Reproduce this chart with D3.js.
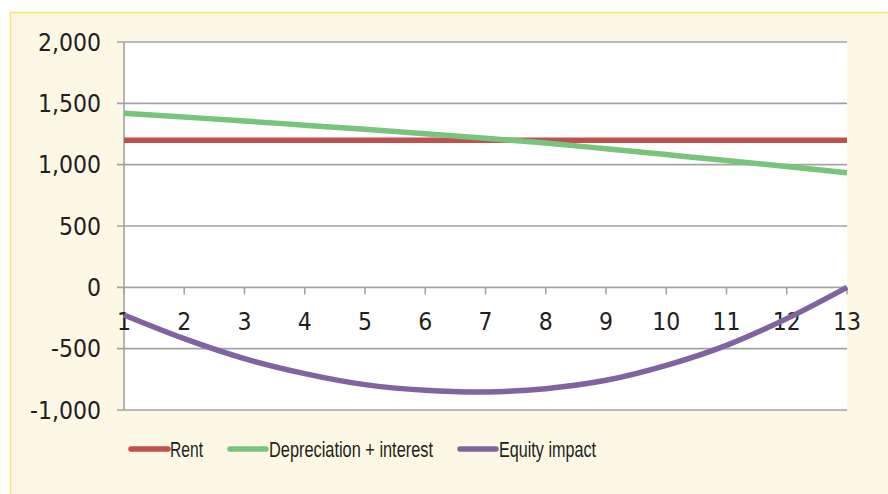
<!DOCTYPE html>
<html>
<head>
<meta charset="utf-8">
<script src="https://cdn.jsdelivr.net/npm/d3@7"></script>
<style>
  html, body { margin: 0; padding: 0; background: #ffffff; }
  svg { display: block; }
</style>
</head>
<body>
<svg id="chart" width="888" height="494"></svg>
<script>
const periods = [1, 2, 3, 4, 5, 6, 7, 8, 9, 10, 11, 12, 13];
const rent = [1200, 1200, 1200, 1200, 1200, 1200, 1200, 1200, 1200, 1200, 1200, 1200, 1200];
const depreciationInterest = [1420, 1388, 1356, 1322, 1288, 1253, 1216, 1176, 1130, 1082, 1034, 985, 935];
const equityImpact = [-225, -418, -581, -703, -793, -839, -853, -826, -758, -636, -473, -255, 0];
const yTicks = [-1000, -500, 0, 500, 1000, 1500, 2000];
const seriesNames = ["Rent", "Depreciation + interest", "Equity impact"];
const seriesColors = ["#c0504d", "#78c47c", "#8064a2"];

const svg = d3.select("#chart");
const W = 888, H = 494;
const plot = { left: 124, right: 847, top: 42, bottom: 410 };

// outer cream panel with yellow top/left border
svg.append("rect").attr("x", 10).attr("y", 12).attr("width", W - 10).attr("height", H - 12)
  .attr("fill", "#fdf8e6");
svg.append("line").attr("x1", 10).attr("x2", W).attr("y1", 12.5).attr("y2", 12.5)
  .attr("stroke", "#f6e76a").attr("stroke-width", 1.5);
svg.append("line").attr("x1", 10.5).attr("x2", 10.5).attr("y1", 12).attr("y2", H)
  .attr("stroke", "#f6e76a").attr("stroke-width", 1.5);

// plot area
svg.append("rect").attr("x", plot.left).attr("y", plot.top)
  .attr("width", plot.right - plot.left).attr("height", plot.bottom - plot.top)
  .attr("fill", "#ffffff");

const x = d3.scaleLinear().domain([1, 13]).range([plot.left, plot.right]);
const y = d3.scaleLinear().domain([-1000, 2000]).range([plot.bottom, plot.top]);

const gridColor = "#a3a3a3";
const fmt = d => d3.format(",")(d).replace("\u2212", "-");
const tickFont = "'DejaVu Sans Condensed', 'DejaVu Sans', sans-serif";

// horizontal gridlines
svg.append("g").selectAll("line").data(yTicks).join("line")
  .attr("x1", plot.left - 7).attr("x2", plot.right)
  .attr("y1", d => y(d)).attr("y2", d => y(d))
  .attr("stroke", gridColor).attr("stroke-width", 1.6);

// y axis line
svg.append("line").attr("x1", plot.left).attr("x2", plot.left)
  .attr("y1", plot.top).attr("y2", plot.bottom)
  .attr("stroke", gridColor).attr("stroke-width", 1.6);

// y labels
svg.append("g").selectAll("text").data(yTicks).join("text")
  .attr("x", 101).attr("y", d => y(d) + 8.5)
  .attr("text-anchor", "end")
  .attr("font-family", tickFont)
  .attr("font-size", 24.5).attr("fill", "#231f20")
  .text(d => fmt(d));

// category ticks on the zero line
svg.append("g").selectAll("line").data(periods).join("line")
  .attr("x1", d => x(d)).attr("x2", d => x(d))
  .attr("y1", y(0)).attr("y2", y(0) + 7)
  .attr("stroke", gridColor).attr("stroke-width", 1.6);

// category labels
svg.append("g").selectAll("text").data(periods).join("text")
  .attr("x", d => x(d)).attr("y", y(0) + 43)
  .attr("text-anchor", "middle")
  .attr("font-family", tickFont)
  .attr("font-size", 24.5).attr("fill", "#231f20")
  .text(d => d);

// series lines
const allSeries = [rent, depreciationInterest, equityImpact];
const line = d3.line()
  .x((d, i) => x(periods[i]))
  .y(d => y(d))
  .curve(d3.curveCardinal.tension(0));

allSeries.forEach((vals, k) => {
  svg.append("path").datum(vals)
    .attr("d", line)
    .attr("fill", "none")
    .attr("stroke", seriesColors[k])
    .attr("stroke-width", 5.5)
    .attr("stroke-linejoin", "round");
});

// legend
const legendItems = [
  { x1: 131, x2: 168, tx: 170, w: 33 },
  { x1: 230, x2: 266, tx: 269, w: 164 },
  { x1: 460, x2: 496, tx: 499, w: 97 }
];
const ly = 449;
legendItems.forEach((it, k) => {
  svg.append("line").attr("x1", it.x1).attr("x2", it.x2).attr("y1", ly).attr("y2", ly)
    .attr("stroke", seriesColors[k]).attr("stroke-width", 5.5).attr("stroke-linecap", "round");
  svg.append("text").attr("x", it.tx).attr("y", ly + 8)
    .attr("font-family", "'Liberation Sans', Arial, sans-serif")
    .attr("font-size", 22).attr("fill", "#231f20")
    .attr("textLength", it.w).attr("lengthAdjust", "spacingAndGlyphs")
    .text(seriesNames[k]);
});
</script>
</body>
</html>
